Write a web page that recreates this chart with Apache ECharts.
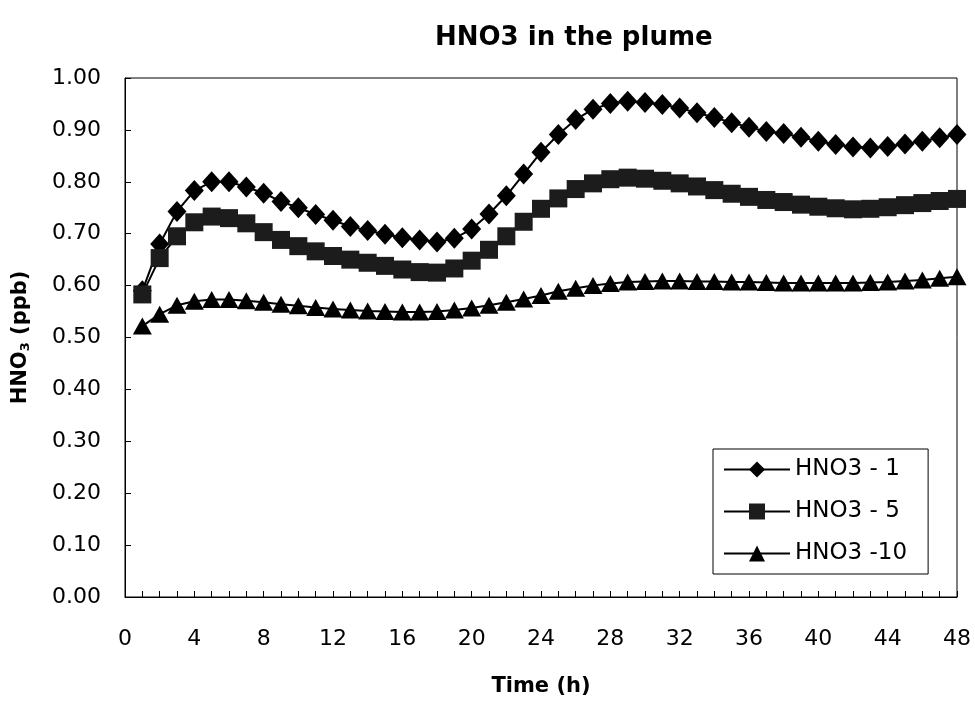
<!DOCTYPE html>
<html>
<head>
<meta charset="utf-8">
<script src="https://cdn.jsdelivr.net/npm/echarts@6/dist/echarts.min.js"></script>
<style>
  html, body { margin: 0; padding: 0; background: #fff; }
  #chart { width: 975px; height: 702px; }
</style>
</head>
<body>
<div id="chart"></div>
<script>
// Hours after release
const hours = [1, 2, 3, 4, 5, 6, 7, 8, 9, 10, 11, 12, 13, 14, 15, 16,
  17, 18, 19, 20, 21, 22, 23, 24, 25, 26, 27, 28, 29, 30, 31, 32,
  33, 34, 35, 36, 37, 38, 39, 40, 41, 42, 43, 44, 45, 46, 47, 48];

// HNO3 concentration (ppb) for each run
const hno3_1 = [0.590, 0.680, 0.743, 0.783, 0.800, 0.800, 0.790, 0.778,
  0.762, 0.750, 0.737, 0.726, 0.714, 0.706, 0.699, 0.692,
  0.688, 0.684, 0.691, 0.709, 0.738, 0.773, 0.815, 0.857,
  0.891, 0.920, 0.940, 0.951, 0.955, 0.953, 0.949, 0.942,
  0.933, 0.924, 0.914, 0.905, 0.897, 0.893, 0.886, 0.878,
  0.872, 0.867, 0.865, 0.868, 0.873, 0.878, 0.885, 0.891];

const hno3_5 = [0.583, 0.653, 0.695, 0.722, 0.733, 0.730, 0.720, 0.703,
  0.688, 0.676, 0.666, 0.657, 0.650, 0.644, 0.638, 0.631,
  0.626, 0.625, 0.633, 0.648, 0.669, 0.695, 0.723, 0.748,
  0.768, 0.786, 0.797, 0.805, 0.808, 0.806, 0.802, 0.797,
  0.791, 0.784, 0.777, 0.771, 0.765, 0.761, 0.756, 0.752,
  0.749, 0.747, 0.748, 0.751, 0.755, 0.759, 0.763, 0.767];

const hno3_10 = [0.522, 0.545, 0.562, 0.570, 0.573, 0.573, 0.571, 0.568,
  0.564, 0.561, 0.558, 0.555, 0.553, 0.551, 0.550, 0.549,
  0.549, 0.550, 0.553, 0.557, 0.562, 0.568, 0.574, 0.581,
  0.589, 0.595, 0.600, 0.604, 0.607, 0.608, 0.609, 0.609,
  0.608, 0.608, 0.607, 0.607, 0.606, 0.605, 0.605, 0.605,
  0.605, 0.605, 0.606, 0.607, 0.609, 0.611, 0.614, 0.617];

const seriesNames = ['HNO3 - 1', 'HNO3 - 5', 'HNO3 -10'];

const pair = (ys) => hours.map((h, i) => [h, ys[i]]);

const font = '"DejaVu Sans", Arial, sans-serif';

const chart = echarts.init(document.getElementById('chart'), null, { renderer: 'canvas' });

chart.setOption({
  animation: false,
  backgroundColor: '#ffffff',
  title: {
    text: 'HNO3 in the plume',
    left: 430,
    top: 20,
    textStyle: { fontFamily: font, fontSize: 26, fontWeight: 'bold', color: '#000' }
  },
  grid: {
    left: 125, right: 18, top: 78, bottom: 99,
    show: true, borderColor: '#000', borderWidth: 1, backgroundColor: 'transparent'
  },
  legend: {
    orient: 'vertical',
    left: 713, top: 449,
    padding: [9, 21, 9, 10],
    itemGap: 19,
    itemWidth: 66,
    itemHeight: 20,
    borderColor: '#000',
    borderWidth: 1,
    backgroundColor: '#fff',
    textStyle: { fontFamily: font, fontSize: 23, color: '#000' },
    data: seriesNames
  },
  xAxis: {
    type: 'value',
    min: 0, max: 48, interval: 4,
    name: 'Time (h)',
    nameLocation: 'middle',
    nameGap: 79,
    nameTextStyle: { fontFamily: font, fontSize: 21, fontWeight: 'bold', color: '#000' },
    axisLine: { show: true, lineStyle: { color: '#000', width: 1 } },
    axisTick: { show: true, inside: true, length: 6, lineStyle: { color: '#000' } },
    minorTick: { show: true, splitNumber: 4, length: 6, lineStyle: { color: '#000' } },
    splitLine: { show: false },
    axisLabel: { fontFamily: font, fontSize: 22, color: '#000', margin: 31 }
  },
  yAxis: {
    type: 'value',
    min: 0, max: 1, interval: 0.1,
    name: 'HNO{sub|3} (ppb)',
    nameLocation: 'middle',
    nameRotate: 90,
    nameGap: 93,
    nameTextStyle: {
      fontFamily: font, fontSize: 21, fontWeight: 'bold', color: '#000',
      rich: {
        sub: { fontFamily: font, fontSize: 13, fontWeight: 'bold', color: '#000', verticalAlign: 'bottom', padding: [9, 0, 0, 0] }
      }
    },
    axisLine: { show: true, lineStyle: { color: '#000', width: 1 } },
    axisTick: { show: true, inside: true, length: 6, lineStyle: { color: '#000' } },
    splitLine: { show: false },
    axisLabel: {
      fontFamily: font, fontSize: 22, color: '#000', margin: 24,
      formatter: (v) => v.toFixed(2)
    }
  },
  series: [
    {
      name: seriesNames[0], type: 'line', data: pair(hno3_1),
      symbol: 'diamond', symbolSize: [19, 21], showAllSymbol: true,
      lineStyle: { color: '#000', width: 2 },
      itemStyle: { color: '#000', borderWidth: 0 }
    },
    {
      name: seriesNames[1], type: 'line', data: pair(hno3_5),
      symbol: 'rect', symbolSize: 18, showAllSymbol: true,
      lineStyle: { color: '#000', width: 2 },
      itemStyle: { color: '#1c1c1c', borderWidth: 0 }
    },
    {
      name: seriesNames[2], type: 'line', data: pair(hno3_10),
      symbol: 'triangle', symbolSize: [19, 17], showAllSymbol: true,
      lineStyle: { color: '#000', width: 2 },
      itemStyle: { color: '#000', borderWidth: 0 }
    }
  ]
});
</script>
</body>
</html>
